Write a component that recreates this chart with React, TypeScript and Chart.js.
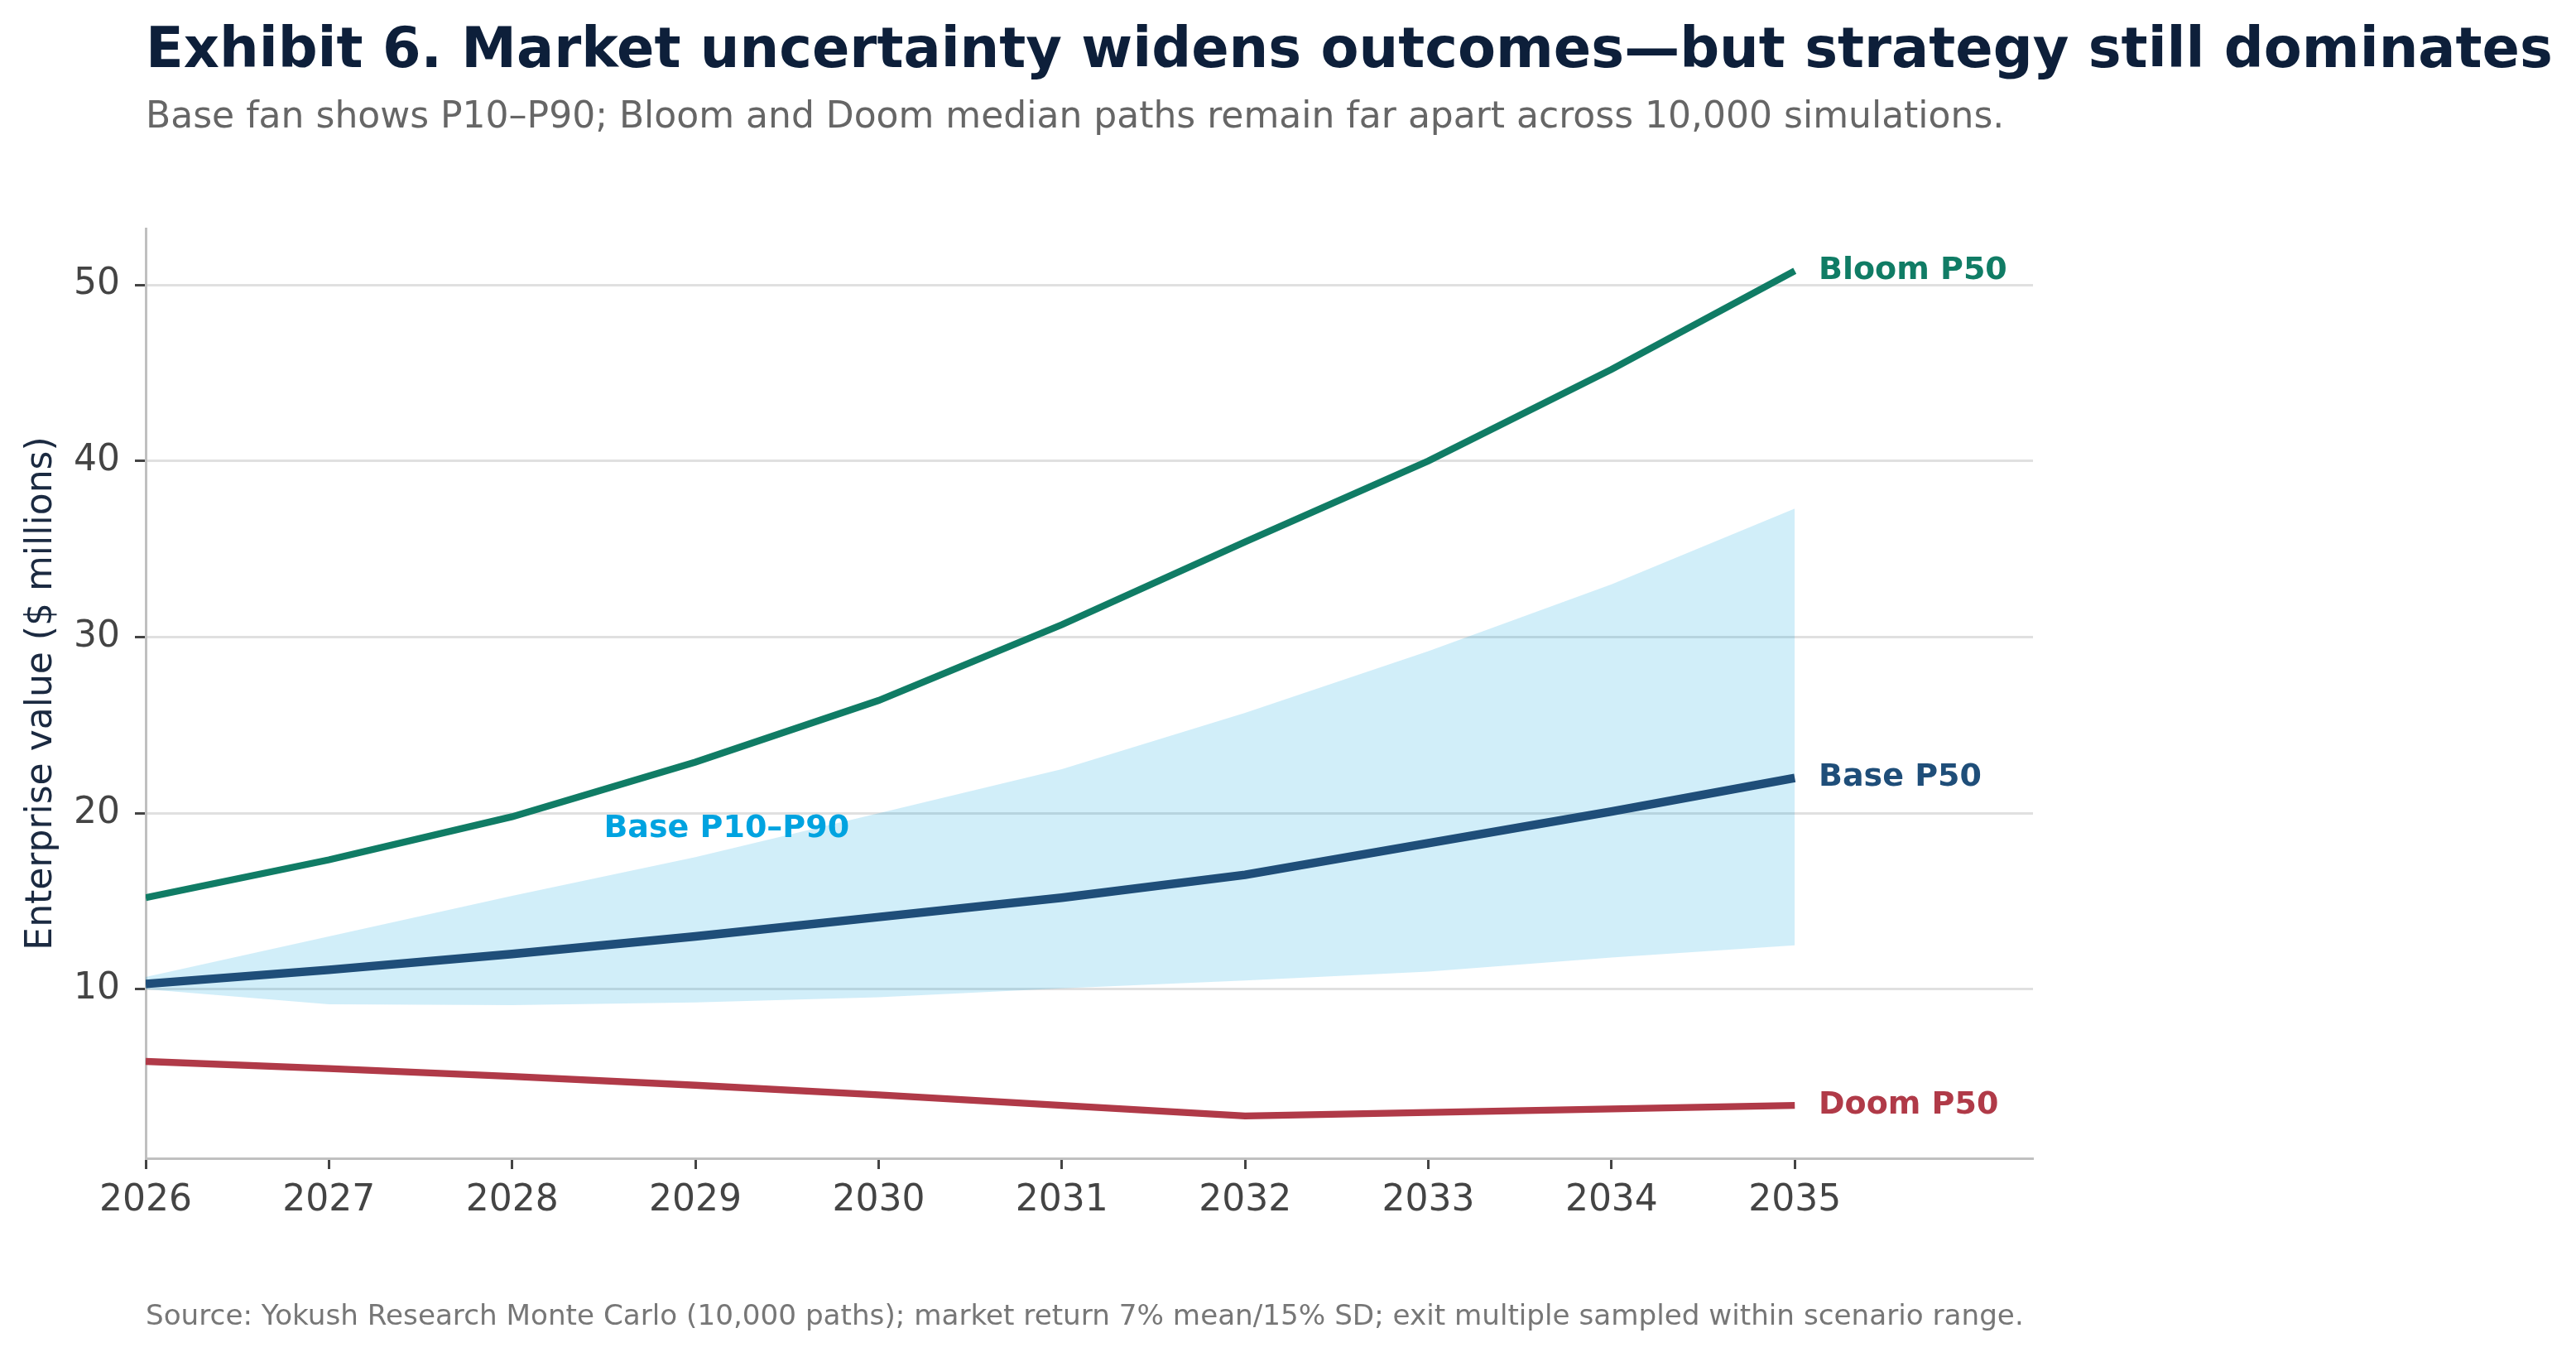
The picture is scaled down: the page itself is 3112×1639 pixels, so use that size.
import React, { useEffect, useRef } from "react";
import { Chart, registerables } from "chart.js";

Chart.register(...registerables);

const years = [2026, 2027, 2028, 2029, 2030, 2031, 2032, 2033, 2034, 2035];
const bloomP50 = [15.2, 17.35, 19.8, 22.9, 26.4, 30.7, 35.4, 40.0, 45.2, 50.8];
const baseP50 = [10.3, 11.1, 12.0, 13.0, 14.1, 15.2, 16.5, 18.3, 20.1, 22.0];
const baseP90 = [10.7, 13.0, 15.3, 17.5, 20.0, 22.5, 25.7, 29.2, 33.0, 37.3];
const baseP10 = [10.0, 9.15, 9.1, 9.25, 9.55, 10.05, 10.5, 11.0, 11.8, 12.5];
const doomP50 = [5.9, 5.5, 5.05, 4.55, 4.0, 3.4, 2.8, 3.0, 3.2, 3.4];
const yTicks = [10, 20, 30, 40, 50];

const TITLE = "Exhibit 6. Market uncertainty widens outcomes\u2014but strategy still dominates";
const SUBTITLE = "Base fan shows P10\u2013P90; Bloom and Doom median paths remain far apart across 10,000 simulations.";
const SOURCE = "Source: Yokush Research Monte Carlo (10,000 paths); market return 7% mean/15% SD; exit multiple sampled within scenario range.";
const Y_TITLE = "Enterprise value ($ millions)";
const FAN_LABEL = "Base P10\u2013P90";
const FAN_LABEL_POS = { x: 2028.5, y: 19.1 };
const END_LABEL_X = 2035.13;

const COLORS = {
  bloom: "#107C65",
  base: "#1F4E79",
  doom: "#B03A48",
  fill: "rgba(0,163,224,0.18)",
  fanText: "#00A3E0",
};

const FONT = "'DejaVu Sans', 'Liberation Sans', sans-serif";

const toPts = (vals: number[]) => vals.map((v, i) => ({ x: years[i], y: v }));

export default function App() {
  const canvasRef = useRef<HTMLCanvasElement | null>(null);

  useEffect(() => {
    document.body.style.margin = "0";
    const canvas = canvasRef.current;
    if (!canvas) return;

    const endLabels = [
      { text: "Bloom P50", value: bloomP50[bloomP50.length - 1], color: COLORS.bloom },
      { text: "Base P50", value: baseP50[baseP50.length - 1], color: COLORS.base },
      { text: "Doom P50", value: doomP50[doomP50.length - 1], color: COLORS.doom },
    ];

    const labelPlugin = {
      id: "labels",
      afterDatasetsDraw(chart: any) {
        const { ctx, scales } = chart;
        const xs = scales.x;
        const ys = scales.y;
        ctx.save();
        ctx.font = `bold 38px ${FONT}`;
        ctx.textAlign = "left";
        ctx.textBaseline = "middle";
        for (const l of endLabels) {
          ctx.fillStyle = l.color;
          ctx.fillText(l.text, xs.getPixelForValue(END_LABEL_X), ys.getPixelForValue(l.value));
        }
        ctx.fillStyle = COLORS.fanText;
        ctx.fillText(FAN_LABEL, xs.getPixelForValue(FAN_LABEL_POS.x), ys.getPixelForValue(FAN_LABEL_POS.y));
        ctx.restore();
      },
    };

    const chart = new Chart(canvas, {
      type: "line",
      data: {
        datasets: [
          {
            label: "Base P50",
            data: toPts(baseP50),
            borderColor: COLORS.base,
            borderWidth: 10.4,
            pointRadius: 0,
            fill: false,
            tension: 0,
          },
          {
            label: "Bloom P50",
            data: toPts(bloomP50),
            borderColor: COLORS.bloom,
            borderWidth: 8.3,
            pointRadius: 0,
            fill: false,
            tension: 0,
          },
          {
            label: "Doom P50",
            data: toPts(doomP50),
            borderColor: COLORS.doom,
            borderWidth: 8.3,
            pointRadius: 0,
            fill: false,
            tension: 0,
          },
          {
            label: "Base P90",
            data: toPts(baseP90),
            borderWidth: 0,
            borderColor: "rgba(0,0,0,0)",
            backgroundColor: COLORS.fill,
            pointRadius: 0,
            fill: 4,
            tension: 0,
          },
          {
            label: "Base P10",
            data: toPts(baseP10),
            borderWidth: 0,
            borderColor: "rgba(0,0,0,0)",
            pointRadius: 0,
            fill: false,
            tension: 0,
          },
        ],
      },
      options: {
        animation: false,
        responsive: false,
        devicePixelRatio: 1,
        layout: { padding: { left: 0, top: 276, right: 656, bottom: 0 } },
        plugins: {
          legend: { display: false },
          tooltip: { enabled: false },
          title: { display: false },
        },
        scales: {
          x: {
            type: "linear",
            min: 2026,
            max: 2036.3,
            afterBuildTicks: (scale: any) => {
              scale.ticks = years.map((v) => ({ value: v }));
            },
            afterFit: (scale: any) => {
              scale.height = 240;
            },
            grid: {
              display: true,
              drawOnChartArea: false,
              drawTicks: true,
              tickLength: 13,
              tickWidth: 3,
              tickColor: "#444444",
            },
            border: { display: true, color: "#c0c0c0", width: 3 },
            ticks: {
              autoSkip: false,
              maxRotation: 0,
              padding: 12,
              color: "#444444",
              font: { family: FONT, size: 44 },
              callback: (v: any) => String(v),
            },
          },
          y: {
            type: "linear",
            min: 0.4,
            max: 53.2,
            afterBuildTicks: (scale: any) => {
              scale.ticks = yTicks.map((v) => ({ value: v }));
            },
            afterFit: (scale: any) => {
              scale.width = 176;
            },
            grid: {
              display: true,
              drawOnChartArea: true,
              drawTicks: true,
              color: "#e0e0e0",
              lineWidth: 3,
              tickLength: 13,
              tickWidth: 3,
              tickColor: "#444444",
            },
            border: { display: true, color: "#c0c0c0", width: 3 },
            ticks: {
              padding: 18,
              color: "#444444",
              font: { family: FONT, size: 44 },
              callback: (v: any) => String(v),
            },
            title: {
              display: true,
              text: Y_TITLE,
              color: "#1b2a41",
              font: { family: FONT, size: 44 },
              padding: { top: 24, bottom: 0 },
            },
          },
        },
      },
      plugins: [labelPlugin],
    });

    return () => chart.destroy();
  }, []);

  const textBase: React.CSSProperties = {
    position: "absolute",
    left: 176,
    margin: 0,
    whiteSpace: "nowrap",
    fontFamily: FONT,
    lineHeight: 1,
  };

  return (
    <div style={{ position: "absolute", left: 0, top: 0, width: 3112, height: 1639, background: "#ffffff", overflow: "hidden" }}>
      <canvas ref={canvasRef} width={3112} height={1639} style={{ position: "absolute", left: 0, top: 0, width: 3112, height: 1639 }} />
      <div style={{ ...textBase, top: 25, fontSize: 67, fontWeight: "bold", color: "#0d1f3a" }}>{TITLE}</div>
      <div style={{ ...textBase, top: 117, fontSize: 44, color: "#666666" }}>{SUBTITLE}</div>
      <div style={{ ...textBase, top: 1571, fontSize: 34.2, color: "#777777" }}>{SOURCE}</div>
    </div>
  );
}
